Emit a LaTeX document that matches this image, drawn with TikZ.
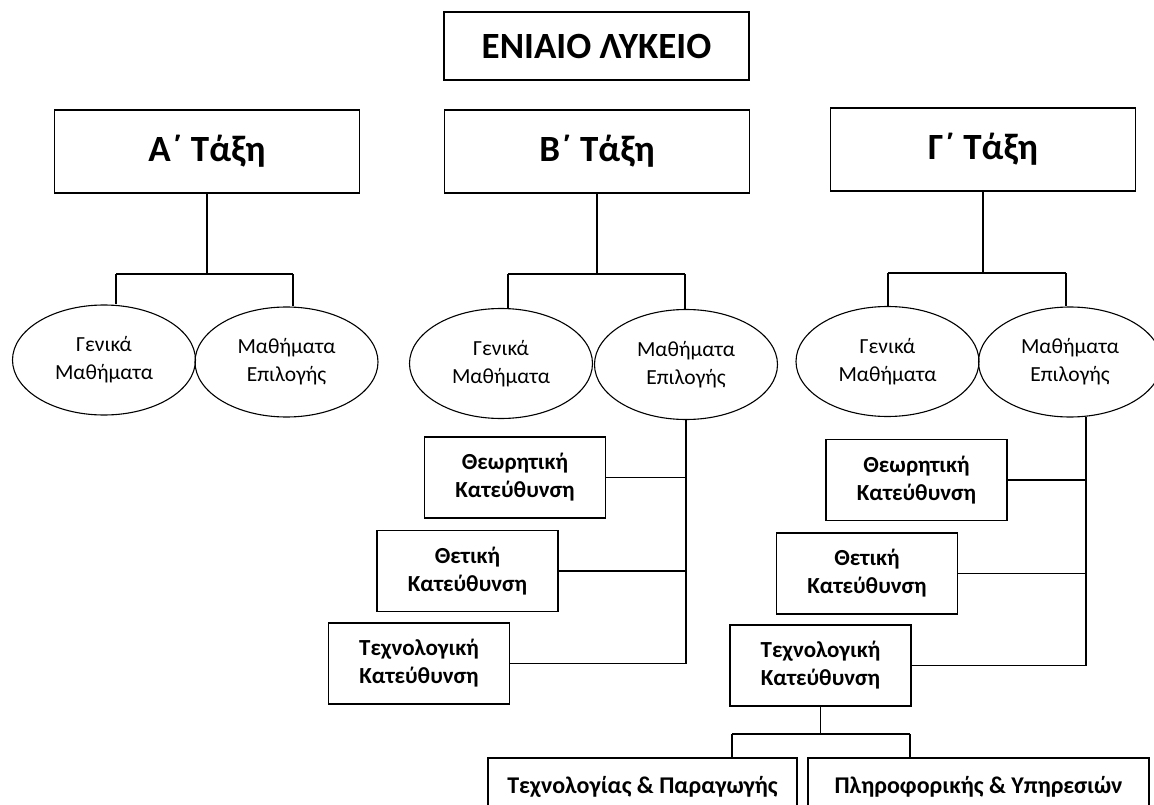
\documentclass[tikz,border=0pt]{standalone}
\usepackage{fontspec}
\setmainfont{Carlito}
\usetikzlibrary{shapes.geometric}

\begin{document}
\begin{tikzpicture}[x=1pt,y=-1pt,
    bigbox/.style={draw, line width=1.8pt, inner sep=0pt, minimum width=305pt, minimum height=83pt,
        font=\bfseries\fontsize{37}{42}\selectfont},
    oval/.style={draw, ellipse, line width=1.1pt, inner sep=0pt, minimum width=183pt, minimum height=110pt,
        align=center, font=\fontsize{21.5}{28}\selectfont},
    dirbox/.style={draw, line width=1.8pt, inner sep=0pt, minimum width=181pt, minimum height=81pt,
        align=center, font=\bfseries\fontsize{23}{28}\selectfont},
    link/.style={line width=1.2pt}]
    \useasboundingbox (0,0) rectangle (1154,805);
    % Title and the three classes
    \node[bigbox, minimum height=68pt] (lyk) at (596.5,46) {ΕΝΙΑΙΟ ΛΥΚΕΙΟ};
    \node[bigbox] (taxA) at (207,151.5) {Α΄ Τάξη};
    \node[bigbox] (taxB) at (597,151.5) {Β΄ Τάξη};
    \node[bigbox] (taxG) at (983,149.5) {Γ΄ Τάξη};
    % Ellipses
    \node[oval] (genA) at (104,360) {Γενικά\\Μαθήματα};
    \node[oval] (epiA) at (286.5,362) {Μαθήματα\\Επιλογής};
    \node[oval] (genB) at (501,363.5) {Γενικά\\Μαθήματα};
    \node[oval] (epiB) at (686,364.5) {Μαθήματα\\Επιλογής};
    \node[oval] (genG) at (887.5,361.5) {Γενικά\\Μαθήματα};
    \node[oval] (epiG) at (1070,362) {Μαθήματα\\Επιλογής};
    % Branch bars
    \coordinate (barAl) at (116,274);
    \coordinate (barAr) at (293,274);
    \coordinate (barBl) at (508,274);
    \coordinate (barBr) at (685,274);
    \coordinate (barGl) at (888,273);
    \coordinate (barGr) at (1066,273);
    \draw[link] (barAl) -- (barAr);
    \draw[link] (barBl) -- (barBr);
    \draw[link] (barGl) -- (barGr);
    \draw[link] (taxA.south) -- (taxA.south |- barAl);
    \draw[link] (taxB.south) -- (taxB.south |- barBl);
    \draw[link] (taxG.south) -- (taxG.south |- barGl);
    \draw[link] (barAl) -- (barAl |- genA.north);
    \draw[link] (barAr) -- (barAr |- epiA.north);
    \draw[link] (barBl) -- (barBl |- genB.north);
    \draw[link] (barBr) -- (barBr |- epiB.north);
    \draw[link] (barGl) -- (barGl |- genG.north);
    \draw[link] (barGr) -- (barGr |- epiG.north);
    % Directions of B class
    \node[dirbox] (thB) at (515,477.5) {Θεωρητική\\Κατεύθυνση};
    \node[dirbox] (ftB) at (467.5,571) {Θετική\\Κατεύθυνση};
    \node[dirbox] (tcB) at (419,663.5) {Τεχνολογική\\Κατεύθυνση};
    \draw[link] (epiB.south) -- (epiB.south |- tcB.east);
    \draw[link] (thB.east) -- (thB.east -| epiB.south);
    \draw[link] (ftB.east) -- (ftB.east -| epiB.south);
    \draw[link] (tcB.east) -- (tcB.east -| epiB.south);
    % Directions of G class
    \node[dirbox] (thG) at (916.5,480) {Θεωρητική\\Κατεύθυνση};
    \node[dirbox] (ftG) at (867,573.5) {Θετική\\Κατεύθυνση};
    \node[dirbox] (tcG) at (820.5,665.5) {Τεχνολογική\\Κατεύθυνση};
    \coordinate (spG) at (1086,417);
    \draw[link] (spG) -- (spG |- tcG.east);
    \draw[link] (thG.east) -- (thG.east -| spG);
    \draw[link] (ftG.east) -- (ftG.east -| spG);
    \draw[link] (tcG.east) -- (tcG.east -| spG);
    % Technology sectors
    \node[dirbox, minimum width=309pt, minimum height=58pt, font=\bfseries\fontsize{24}{28}\selectfont]
        (tpg) at (642.5,787) {Τεχνολογίας \& Παραγωγής};
    \node[dirbox, minimum width=341pt, minimum height=58pt, font=\bfseries\fontsize{24}{28}\selectfont]
        (pyp) at (978.5,787) {Πληροφορικής \& Υπηρεσιών};
    \coordinate (barTl) at (732,734);
    \coordinate (barTr) at (910,734);
    \draw[link] (tcG.south) -- (tcG.south |- barTl);
    \draw[link] (barTl) -- (barTr);
    \draw[link] (barTl) -- (barTl |- tpg.north);
    \draw[link] (barTr) -- (barTr |- pyp.north);
\end{tikzpicture}
\end{document}
